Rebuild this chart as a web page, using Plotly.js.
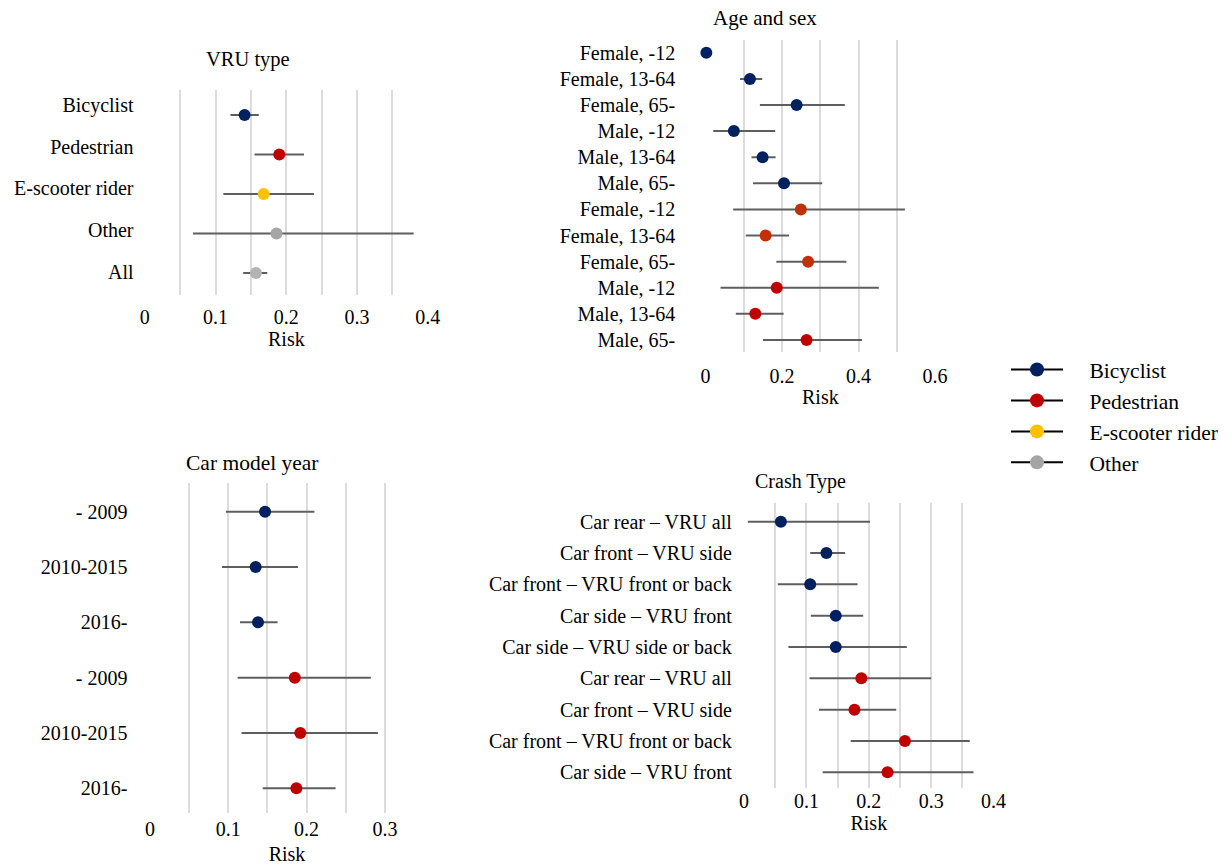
<!DOCTYPE html>
<html>
<head>
<meta charset="utf-8">
<script src="https://cdn.plot.ly/plotly-3.0.1.min.js"></script>
<style>html,body{margin:0;padding:0;background:#fff;}#chart{width:1231px;height:865px;}</style>
</head>
<body>
<div id="chart"></div>
<script>
// ---------- DATA ----------
const groupNames = ['Bicyclist', 'Pedestrian', 'E-scooter rider', 'Other'];

const vruLabels = ['Bicyclist', 'Pedestrian', 'E-scooter rider', 'Other', 'All'];
const vruGroup  = ['Bicyclist', 'Pedestrian', 'E-scooter rider', 'Other', 'All'];
const vruRisk   = [0.141, 0.190, 0.168, 0.186, 0.157];
const vruLow    = [0.121, 0.155, 0.111, 0.068, 0.139];
const vruHigh   = [0.161, 0.225, 0.239, 0.380, 0.173];

const ageLabels = ['Female, -12', 'Female, 13-64', 'Female, 65-', 'Male, -12', 'Male, 13-64', 'Male, 65-',
                   'Female, -12', 'Female, 13-64', 'Female, 65-', 'Male, -12', 'Male, 13-64', 'Male, 65-'];
const ageGroup  = ['Bicyclist', 'Bicyclist', 'Bicyclist', 'Bicyclist', 'Bicyclist', 'Bicyclist',
                   'Pedestrian', 'Pedestrian', 'Pedestrian', 'Pedestrian', 'Pedestrian', 'Pedestrian'];
const ageRisk   = [0.002, 0.116, 0.238, 0.074, 0.149, 0.205, 0.249, 0.157, 0.268, 0.186, 0.130, 0.264];
const ageLow    = [0.002, 0.090, 0.142, 0.020, 0.120, 0.124, 0.072, 0.105, 0.185, 0.039, 0.079, 0.150];
const ageHigh   = [0.002, 0.148, 0.364, 0.182, 0.183, 0.305, 0.521, 0.218, 0.368, 0.453, 0.204, 0.409];

const yearLabels = ['- 2009', '2010-2015', '2016-', '- 2009', '2010-2015', '2016-'];
const yearGroup  = ['Bicyclist', 'Bicyclist', 'Bicyclist', 'Pedestrian', 'Pedestrian', 'Pedestrian'];
const yearRisk   = [0.147, 0.135, 0.138, 0.185, 0.192, 0.187];
const yearLow    = [0.097, 0.092, 0.115, 0.112, 0.117, 0.144];
const yearHigh   = [0.210, 0.189, 0.163, 0.282, 0.291, 0.237];

const crashLabels = ['Car rear – VRU all', 'Car front – VRU side', 'Car front – VRU front or back',
                     'Car side – VRU front', 'Car side – VRU side or back', 'Car rear – VRU all',
                     'Car front – VRU side', 'Car front – VRU front or back', 'Car side – VRU front'];
const crashGroup  = ['Bicyclist', 'Bicyclist', 'Bicyclist', 'Bicyclist', 'Bicyclist',
                     'Pedestrian', 'Pedestrian', 'Pedestrian', 'Pedestrian'];
const crashRisk   = [0.059, 0.132, 0.106, 0.147, 0.147, 0.188, 0.177, 0.258, 0.230];
const crashLow    = [0.006, 0.106, 0.054, 0.107, 0.071, 0.105, 0.120, 0.171, 0.126];
const crashHigh   = [0.202, 0.162, 0.182, 0.191, 0.261, 0.300, 0.244, 0.362, 0.368];

// ---------- STYLE ----------
const colorOf = {
  'Bicyclist': '#002060',
  'Pedestrian': '#C00000',
  'E-scooter rider': '#FFC000',
  'Other': '#A5A5A5',
  'All': '#B3B3B3'
};
const femalePedColor = '#C2300A';
const FONT = '"Liberation Serif", "Times New Roman", serif';
const GRID = '#DCDCDC';
const ERR = '#5E5E5E';

function idx(arr) { return arr.map((_, i) => i); }

function panelTrace(labels, groups, risk, low, high, xa, ya, femaleTint) {
  const colors = groups.map((g, i) =>
    (femaleTint && g === 'Pedestrian' && labels[i].startsWith('Female')) ? femalePedColor : colorOf[g]);
  return {
    type: 'scatter', mode: 'markers', cliponaxis: false,
    x: risk, y: idx(labels), xaxis: xa, yaxis: ya,
    marker: {color: colors, size: 12, line: {width: 0}},
    error_x: {
      type: 'data', symmetric: false,
      array: high.map((h, i) => h - risk[i]),
      arrayminus: low.map((l, i) => risk[i] - l),
      color: ERR, thickness: 2, width: 0
    },
    showlegend: false, hoverinfo: 'x+y'
  };
}

const traces = [
  panelTrace(vruLabels, vruGroup, vruRisk, vruLow, vruHigh, 'x', 'y', false),
  panelTrace(ageLabels, ageGroup, ageRisk, ageLow, ageHigh, 'x2', 'y2', true),
  panelTrace(yearLabels, yearGroup, yearRisk, yearLow, yearHigh, 'x3', 'y3', false),
  panelTrace(crashLabels, crashGroup, crashRisk, crashLow, crashHigh, 'x4', 'y4', false),
  // label-only axis for the first panel (labels sit slightly apart from the dots there)
  {type: 'scatter', mode: 'markers', x: [null], y: [null], xaxis: 'x', yaxis: 'y5', showlegend: false, hoverinfo: 'skip'}
];
const legendPad = '\u00a0\u00a0\u00a0\u00a0';
groupNames.forEach(g => traces.push({
  type: 'scatter', mode: 'lines+markers', x: [null], y: [null], xaxis: 'x', yaxis: 'y',
  name: legendPad + g, line: {color: '#000', width: 2}, marker: {color: colorOf[g], size: 14}, showlegend: true
}));

function xAxis(domain, range, dtick, minor, anchor, labelShift, standoff) {
  return {
    domain, range, anchor, tick0: 0, dtick, showgrid: true, gridcolor: GRID, gridwidth: 2,
    minor: {tick0: 0, dtick: minor, showgrid: true, gridcolor: GRID, gridwidth: 2, ticks: ''},
    zeroline: false, showline: false, ticks: '', ticklabelstandoff: labelShift,
    tickfont: {family: FONT, size: 20, color: '#000'},
    title: {text: 'Risk', standoff, font: {family: FONT, size: 20, color: '#000'}},
    fixedrange: true
  };
}
function yAxis(domain, range, labels, anchor, ticklen, showLabels) {
  return {
    domain, range, anchor, tickmode: 'array', tickvals: idx(labels), ticktext: labels,
    showticklabels: showLabels !== false,
    showgrid: false, zeroline: false, showline: false, ticks: 'outside', ticklen,
    tickcolor: 'rgba(0,0,0,0)', tickfont: {family: FONT, size: 20, color: '#000'}, fixedrange: true
  };
}

const W = 1231, H = 865;
const px = (a, b) => [a / W, b / W];
const py = (top, bottom) => [1 - bottom / H, 1 - top / H];

const y5 = yAxis(py(90, 295), [4.56, -0.36], vruLabels, 'x', 6);
y5.overlaying = 'y';

const layout = {
  width: W, height: H,
  margin: {l: 0, r: 0, t: 0, b: 0},
  paper_bgcolor: '#fff', plot_bgcolor: 'rgba(0,0,0,0)',
  font: {family: FONT, size: 20, color: '#000'},
  showlegend: true,
  legend: {x: 1006 / W, y: 1 - 349 / H, xanchor: 'left', yanchor: 'top',
           font: {family: FONT, size: 21.5, color: '#000'}, bgcolor: 'rgba(0,0,0,0)', itemwidth: 52,
           tracegroupgap: 0},
  xaxis:  xAxis(px(144.5, 428.2), [-0.0005, 0.4005], 0.1, 0.05, 'y', 8, 0),
  yaxis:  yAxis(py(90, 295), [4.557, -0.633], vruLabels, 'x', 6, false),
  yaxis5: y5,
  xaxis2: xAxis(px(705.2, 935.5), [-0.001, 0.601], 0.2, 0.1, 'y2', 10, 4),
  yaxis2: yAxis(py(40, 351.7), [11.45, -0.49], ageLabels, 'x2', 25),
  xaxis3: xAxis(px(149.5, 424.5), [-0.0005, 0.3505], 0.1, 0.05, 'y3', 2, 9),
  yaxis3: yAxis(py(483.3, 813.3), [5.452, -0.513], yearLabels, 'x3', 17),
  xaxis4: xAxis(px(743.8, 993.8), [-0.0005, 0.4005], 0.1, 0.05, 'y4', -1, 2),
  yaxis4: yAxis(py(503.3, 788.3), [8.511, -0.587], crashLabels, 'x4', 7),
  annotations: [
    {text: 'VRU type', x: 248 / W, y: 1 - 60 / H, size: 20.5},
    {text: 'Age and sex', x: 765 / W, y: 1 - 18 / H, size: 21},
    {text: 'Car model year', x: 252 / W, y: 1 - 463 / H, size: 21.5},
    {text: 'Crash Type', x: 800 / W, y: 1 - 481 / H, size: 20}
  ].map(a => ({text: a.text, x: a.x, y: a.y, xref: 'paper', yref: 'paper', xanchor: 'center', yanchor: 'middle',
               showarrow: false, font: {family: FONT, size: a.size, color: '#000'}}))
};

Plotly.newPlot('chart', traces, layout, {displayModeBar: false, staticPlot: true});
</script>
</body>
</html>
